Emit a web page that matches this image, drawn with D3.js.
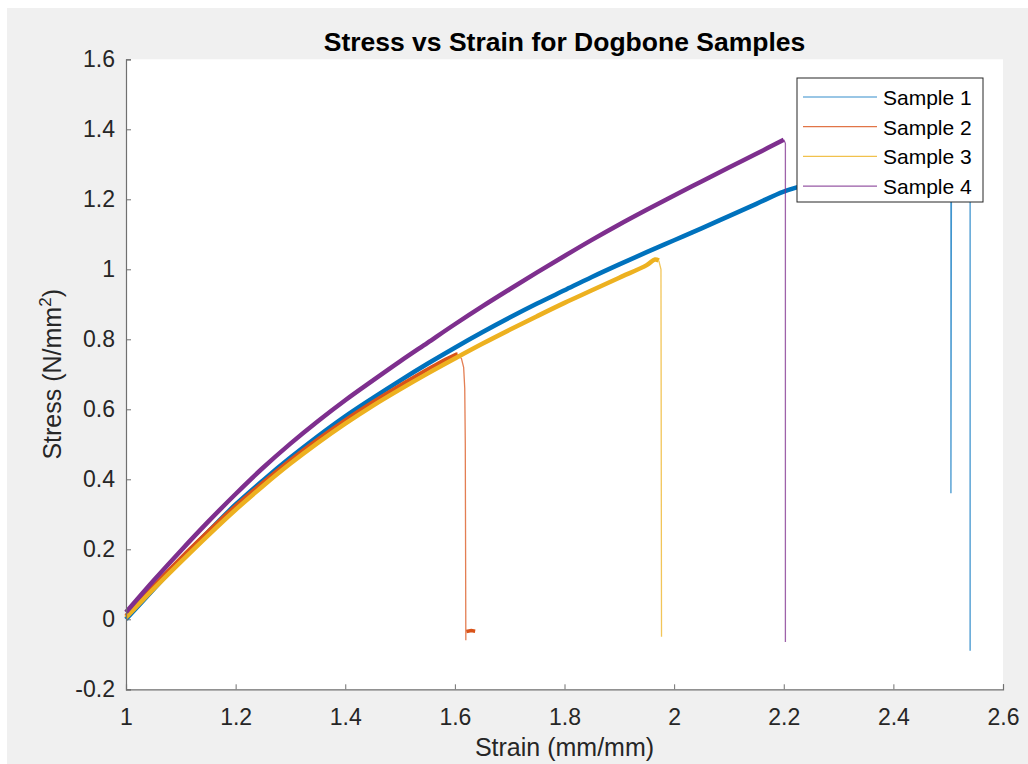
<!DOCTYPE html>
<html>
<head>
<meta charset="utf-8">
<script src="https://cdn.jsdelivr.net/npm/d3@7"></script>
<style>
  body { margin: 0; background: #ffffff; }
  svg { display: block; font-family: "Liberation Sans", Arial, sans-serif; }
  .tick text { fill: #262626; font-size: 23px; }
  .legend-text { fill: #000; font-size: 21px; }
</style>
</head>
<body>
<svg id="chart" width="1028" height="764"></svg>
<script>
// values, [strain, stress]
var seriesNames = ["Sample 1", "Sample 2", "Sample 3", "Sample 4"];
var seriesColors = ["#0072BD", "#D95319", "#EDB120", "#7E2F8E"];

var sample1 = [[1.00, 0.00], [1.05, 0.085], [1.10, 0.17], [1.15, 0.25], [1.20, 0.328],
  [1.25, 0.397], [1.30, 0.462], [1.35, 0.523], [1.40, 0.58], [1.45, 0.632], [1.50, 0.682],
  [1.55, 0.73], [1.60, 0.776], [1.65, 0.82], [1.70, 0.862], [1.75, 0.902], [1.80, 0.94],
  [1.85, 0.978], [1.90, 1.014], [1.95, 1.049], [2.00, 1.083], [2.05, 1.117], [2.10, 1.152],
  [2.15, 1.187], [2.20, 1.222], [2.25, 1.245], [2.30, 1.265], [2.35, 1.28], [2.40, 1.295],
  [2.45, 1.305], [2.505, 1.31], [2.52, 1.312], [2.54, 1.315]];
var sample1Drop = [[2.505, 1.31], [2.505, 0.36], [2.506, 1.31]];
var sample1Drop2 = [[2.54, 1.315], [2.54, -0.09]];

var sample2 = [[1.00, 0.01], [1.05, 0.095], [1.10, 0.175], [1.15, 0.251], [1.20, 0.324],
  [1.25, 0.391], [1.30, 0.455], [1.35, 0.514], [1.40, 0.569], [1.45, 0.62], [1.50, 0.668],
  [1.55, 0.714], [1.60, 0.755], [1.605, 0.757]];
var sample2Drop = [[1.605, 0.757], [1.612, 0.745], [1.616, 0.72], [1.618, 0.66],
  [1.619, 0.5], [1.62, -0.06]];
var sample2Tail = [[1.621, -0.035], [1.63, -0.032], [1.637, -0.034]];

var sample3 = [[1.00, 0.005], [1.05, 0.086], [1.10, 0.164], [1.15, 0.24], [1.20, 0.313],
  [1.25, 0.381], [1.30, 0.445], [1.35, 0.504], [1.40, 0.559], [1.45, 0.61], [1.50, 0.657],
  [1.55, 0.702], [1.60, 0.745], [1.65, 0.787], [1.70, 0.827], [1.75, 0.866], [1.80, 0.904],
  [1.85, 0.94], [1.90, 0.976], [1.95, 1.012], [1.965, 1.028], [1.972, 1.025]];
var sample3Drop = [[1.972, 1.025], [1.976, 1.0], [1.977, -0.05]];

var sample4 = [[1.00, 0.02], [1.05, 0.11], [1.10, 0.196], [1.15, 0.279], [1.20, 0.358],
  [1.25, 0.433], [1.30, 0.502], [1.35, 0.566], [1.40, 0.626], [1.45, 0.682], [1.50, 0.737],
  [1.55, 0.79], [1.60, 0.843], [1.65, 0.894], [1.70, 0.943], [1.75, 0.991], [1.80, 1.038],
  [1.85, 1.084], [1.90, 1.128], [1.95, 1.17], [2.00, 1.211], [2.05, 1.251], [2.10, 1.291],
  [2.15, 1.33], [2.20, 1.37]];
var sample4Drop = [[2.20, 1.37], [2.203, 1.36], [2.203, -0.065]];

var xTicks = [1, 1.2, 1.4, 1.6, 1.8, 2, 2.2, 2.4, 2.6];
var yTicks = [-0.2, 0, 0.2, 0.4, 0.6, 0.8, 1, 1.2, 1.4, 1.6];

(function() {
  var svg = d3.select("#chart");

  // MATLAB figure grey
  svg.append("rect")
    .attr("x", 7).attr("y", 8)
    .attr("width", 1021).attr("height", 756)
    .attr("fill", "#f0f0f0");

  var pLeft = 126, pRight = 1003, pTop = 59.3, pBottom = 689.3;

  svg.append("rect")
    .attr("x", pLeft).attr("y", pTop)
    .attr("width", pRight - pLeft).attr("height", pBottom - pTop)
    .attr("fill", "#ffffff");

  var x = d3.scaleLinear().domain([1, 2.6]).range([pLeft, pRight]);
  var y = d3.scaleLinear().domain([-0.2, 1.6]).range([pBottom, pTop]);

  var line = d3.line()
    .x(function(d) { return x(d[0]); })
    .y(function(d) { return y(d[1]); });
  var smooth = d3.line()
    .curve(d3.curveCatmullRom.alpha(0.5))
    .x(function(d) { return x(d[0]); })
    .y(function(d) { return y(d[1]); });

  var plot = svg.append("g");

  function drawSample(curve, drops, color, width) {
    drops.forEach(function(dd) {
      plot.append("path")
        .attr("d", line(dd))
        .attr("fill", "none")
        .attr("stroke", color)
        .attr("stroke-opacity", 0.75)
        .attr("stroke-width", 1.3);
    });
    plot.append("path")
      .attr("d", smooth(curve))
      .attr("fill", "none")
      .attr("stroke", color)
      .attr("stroke-width", width)
      .attr("stroke-linejoin", "round");
  }

  drawSample(sample1, [sample1Drop, sample1Drop2], seriesColors[0], 4.5);
  drawSample(sample2, [sample2Drop], seriesColors[1], 4);
  plot.append("path")
    .attr("d", line(sample2Tail))
    .attr("fill", "none")
    .attr("stroke", seriesColors[1])
    .attr("stroke-width", 3.5);
  drawSample(sample3, [sample3Drop], seriesColors[2], 4.5);
  drawSample(sample4, [sample4Drop], seriesColors[3], 4.5);

  // axes, ticks pointing inward like MATLAB
  var xAxis = svg.append("g")
    .attr("transform", "translate(0," + pBottom + ")")
    .call(d3.axisBottom(x).tickValues(xTicks).tickSize(-5).tickPadding(19)
      .tickFormat(d3.format("~g")));
  var yAxis = svg.append("g")
    .attr("transform", "translate(" + pLeft + ",0)")
    .call(d3.axisLeft(y).tickValues(yTicks).tickSize(-5).tickPadding(11)
      .tickFormat(function(d) { return d3.format("~g")(d).replace("−", "-"); }));

  [xAxis, yAxis].forEach(function(a) {
    a.select(".domain").attr("stroke", "#707070").attr("stroke-width", 1.2);
    a.selectAll(".tick line").attr("stroke", "#707070");
    a.attr("font-family", null).attr("font-size", null);
  });

  svg.append("text")
    .attr("x", (pLeft + pRight) / 2)
    .attr("y", 51)
    .attr("text-anchor", "middle")
    .attr("font-size", 26.5)
    .attr("font-weight", "bold")
    .attr("fill", "#000")
    .text("Stress vs Strain for Dogbone Samples");

  svg.append("text")
    .attr("x", (pLeft + pRight) / 2)
    .attr("y", 756)
    .attr("text-anchor", "middle")
    .attr("font-size", 25)
    .attr("fill", "#262626")
    .text("Strain (mm/mm)");

  var yl = svg.append("text")
    .attr("transform", "translate(61," + (pTop + pBottom) / 2 + ") rotate(-90)")
    .attr("text-anchor", "middle")
    .attr("font-size", 25)
    .attr("fill", "#262626");
  yl.append("tspan").text("Stress (N/mm");
  yl.append("tspan").attr("font-size", 17).attr("dy", -10).text("2");
  yl.append("tspan").attr("dy", 10).text(")");

  // legend
  var legend = svg.append("g");
  legend.append("rect")
    .attr("x", 797).attr("y", 78)
    .attr("width", 186).attr("height", 124)
    .attr("fill", "#ffffff")
    .attr("stroke", "#262626")
    .attr("stroke-width", 1);

  seriesNames.forEach(function(name, i) {
    var ly = 97 + i * 29.7;
    legend.append("line")
      .attr("x1", 803).attr("x2", 877)
      .attr("y1", ly).attr("y2", ly)
      .attr("stroke", seriesColors[i])
      .attr("stroke-opacity", 0.8)
      .attr("stroke-width", 1.2);
    legend.append("text")
      .attr("class", "legend-text")
      .attr("x", 883)
      .attr("y", ly + 8)
      .text(name);
  });
})();
</script>
</body>
</html>
